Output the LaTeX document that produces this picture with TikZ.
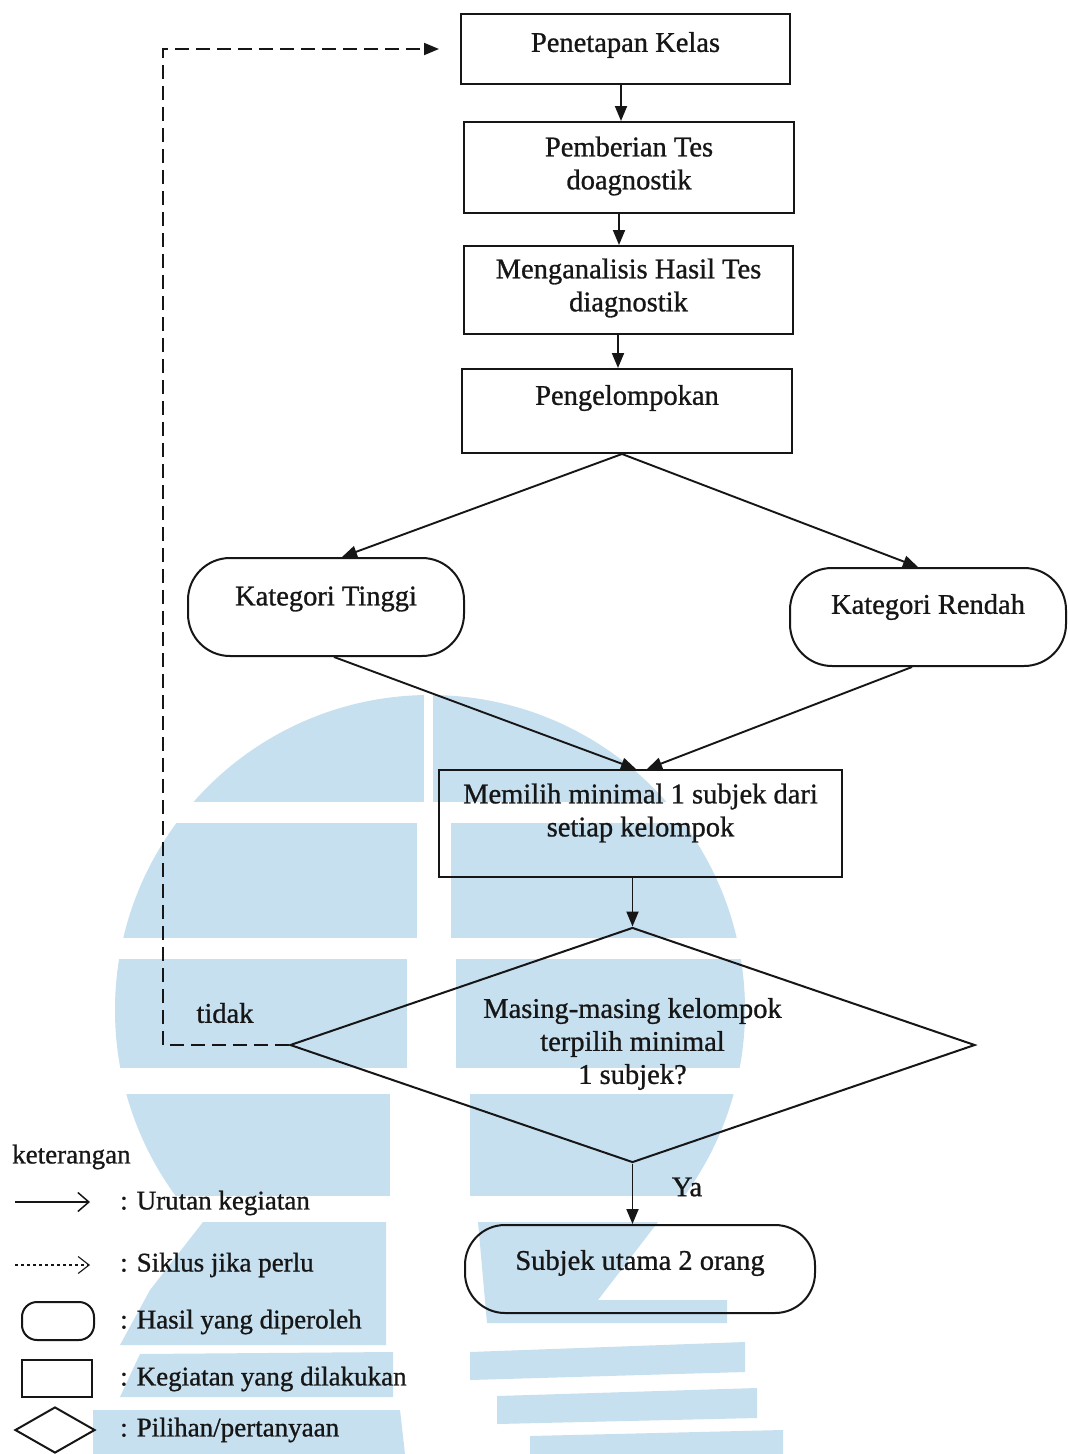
\documentclass[tikz,border=0pt]{standalone}
\usepackage{fontspec}
\setmainfont{Liberation Serif}
\newfontfamily\scanfont{Liberation Serif}[FakeBold=0.9]
\usetikzlibrary{arrows.meta,shapes.geometric,calc}
\definecolor{wm}{RGB}{199,224,240}
\definecolor{ink}{RGB}{22,22,22}
\begin{document}
\begin{tikzpicture}[x=1pt,y=-1pt,
  txt/.style={font=\scanfont\fontsize{28.5pt}{33pt}\selectfont, align=center, inner sep=0pt, text=ink},
  lg/.style={font=\scanfont\fontsize{27pt}{31pt}\selectfont, anchor=west, inner sep=0pt, text=ink},
  box/.style={draw=ink, line width=2pt, inner sep=0pt, rectangle},
  term/.style={draw=ink, line width=2pt, inner sep=0pt, rectangle, rounded corners=42pt},
  dia/.style={draw=ink, line width=2pt, inner sep=0pt, diamond},
  arr/.style={draw=ink, line width=1.9pt, -{Triangle[length=15pt,width=12pt]}},
  loopline/.style={draw=ink, line width=1.9pt, dash pattern=on 14pt off 7pt, -{Triangle[length=15pt,width=12pt]}}
]
\useasboundingbox (0,0) rectangle (1068,1454);
\fill[white] (0,0) rectangle (1068,1454);

% ---- watermark ----
\begin{scope}
\clip (430,1010) circle (315);
\fill[wm] (100,690) rectangle (424,801.5);
\fill[wm] (433,690) rectangle (760,801.5);
\fill[wm] (100,823) rectangle (417,938);
\fill[wm] (451,823) rectangle (760,938);
\fill[wm] (100,959) rectangle (407,1068);
\fill[wm] (456,959) rectangle (760,1068);
\fill[wm] (100,1094) rectangle (390,1196);
\fill[wm] (470,1094) rectangle (760,1196);
\end{scope}
\fill[wm] (203,1222) -- (386,1222) -- (386,1345) -- (120,1345) -- (150,1290) -- cycle;
\fill[wm] (140,1354) -- (393,1352) -- (393,1397) -- (120,1397) -- cycle;
\fill[wm] (93,1410) -- (400,1410) -- (405,1454) -- (93,1454) -- cycle;
\fill[wm] (478,1222) -- (658,1222) -- (598,1300) -- (727,1300) -- (727,1323) -- (487,1323) -- cycle;
\fill[wm] (470,1352) -- (745,1342) -- (745,1372) -- (470,1380) -- cycle;
\fill[wm] (497,1396) -- (757,1388) -- (757,1418) -- (497,1424) -- cycle;
\fill[wm] (530,1436) -- (783,1430) -- (783,1454) -- (530,1454) -- cycle;

% ---- main flow ----
\node[box, minimum width=329pt, minimum height=70pt] (n1) at (625.5,49) {};
\node[txt] (t1) at (625.5,45) {Penetapan Kelas};
\node[box, minimum width=330pt, minimum height=91pt] (n2) at (629,167.5) {};
\node[txt] (t2) at (629,166) {Pemberian Tes\\doagnostik};
\node[box, minimum width=329pt, minimum height=88pt] (n3) at (628.5,290) {};
\node[txt] (t3) at (628.5,288) {Menganalisis Hasil Tes\\diagnostik};
\node[box, minimum width=330pt, minimum height=84pt] (n4) at (627,411) {};
\node[txt] (t4) at (627,398) {Pengelompokan};
\node[term, minimum width=276pt, minimum height=98pt] (n5) at (326,607) {};
\node[txt] (t5) at (326,599) {Kategori Tinggi};
\node[term, minimum width=276pt, minimum height=98pt] (n6) at (928,617) {};
\node[txt] (t6) at (928,607) {Kategori Rendah};
\node[box, minimum width=403pt, minimum height=107pt] (n7) at (640.5,823.5) {};
\node[txt] (t7) at (640.5,813) {Memilih minimal 1 subjek dari\\setiap kelompok};
\node[dia, minimum width=685pt, minimum height=235pt] (n8) at (632.5,1045) {};
\node[txt] (t8) at (632.5,1044) {Masing-masing kelompok\\terpilih minimal\\1 subjek?};
\node[term, minimum width=350pt, minimum height=88pt, rounded corners=40pt] (n9) at (640,1269) {};
\node[txt] (t9) at (640,1263) {Subjek utama 2 orang};

\node[txt] (lt) at (225,1013) {tidak};
\node[txt] (ly) at (687,1187) {Ya};

\draw[arr] ([xshift=-4.5pt]n1.south) -- ([xshift=-8pt]n2.north);
\draw[arr] ([xshift=-10pt]n2.south) -- ([xshift=-9.5pt]n3.north);
\draw[arr] ([xshift=-10.5pt]n3.south) -- ([xshift=-9pt]n4.north);
\draw[arr] ([xshift=-5pt]n4.south) -- ([xshift=16pt]n5.north);
\draw[arr] ([xshift=-5pt]n4.south) -- ([xshift=-10pt]n6.north);
\draw[arr] ([xshift=8pt]n5.south) -- ([xshift=-4.5pt]n7.north);
\draw[arr] ([xshift=-16pt]n6.south) -- ([xshift=6.5pt]n7.north);
\draw[arr] (n7.south -| n8.north) -- (n8.north);
\draw[arr] (n8.south) -- (n8.south |- n9.north);
\coordinate (lc) at (163,1045);
\draw[loopline] (n8.west) -- (lc) |- ([xshift=-21pt]n1.west);

% ---- legend ----
\node[lg] (k0) at (12,1157) {keterangan};
\coordinate (a1s) at (15,1202);
\coordinate (a1e) at (90,1202);
\draw[draw=ink, line width=1.5pt, -{Straight Barb[length=11pt,width=19pt]}] (a1s) -- (a1e);
\node[lg] (k1) at (120,1203) {: Urutan kegiatan};
\coordinate (a2s) at (15,1265);
\coordinate (a2e) at (90,1265);
\draw[draw=ink, line width=1.1pt, dash pattern=on 3pt off 3pt, -{Straight Barb[length=11pt,width=17pt]}] (a2s) -- (a2e);
\node[lg] (k2) at (120,1265) {: Siklus jika perlu};
\node[box, rounded corners=15pt, minimum width=72pt, minimum height=38pt] (s1) at (58,1321) {};
\node[lg] (k3) at (120,1322) {: Hasil yang diperoleh};
\node[box, minimum width=70pt, minimum height=37pt] (s2) at (57,1378.5) {};
\node[lg] (k4) at (120,1379) {: Kegiatan yang dilakukan};
\node[dia, minimum width=80pt, minimum height=46pt] (s3) at (55,1430) {};
\node[lg] (k5) at (120,1430) {: Pilihan/pertanyaan};
\end{tikzpicture}
\end{document}
